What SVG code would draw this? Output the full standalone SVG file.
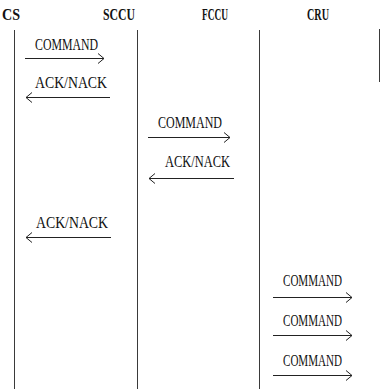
<svg xmlns="http://www.w3.org/2000/svg" width="381" height="389" viewBox="0 0 381 389">
  <style>
    .bg { fill: #ffffff; }
    .life { stroke: #3a3a3a; stroke-width: 1; fill: none; }
    .head { font-family: "Liberation Serif", "Times New Roman", serif; font-size: 16px; font-weight: bold; fill: #111111; }
    .msg { stroke: #222222; stroke-width: 1; fill: none; marker-end: url(#chev); }
    .lbl { font-family: "Liberation Serif", "Times New Roman", serif; font-size: 16px; fill: #111111; }
  </style>
  <defs>
    <marker id="chev" markerUnits="userSpaceOnUse" markerWidth="8" markerHeight="12" refX="7" refY="6" orient="auto">
      <path d="M1,1 L7,6 L1,11" fill="none" stroke="#222222" stroke-width="1"/>
    </marker>
  </defs>

  <rect class="bg" x="0" y="0" width="381" height="389"/>

  <!-- participants -->
  <g id="cs">
    <text class="head" x="2" y="19.5" textLength="18" lengthAdjust="spacingAndGlyphs">CS</text>
    <line class="life" x1="14.5" y1="30" x2="14.5" y2="389"/>
  </g>
  <g id="sccu">
    <text class="head" x="103" y="19.5" textLength="32" lengthAdjust="spacingAndGlyphs">SCCU</text>
    <line class="life" x1="137.5" y1="30" x2="137.5" y2="389"/>
  </g>
  <g id="fccu">
    <text class="head" x="202" y="19.5" textLength="26" lengthAdjust="spacingAndGlyphs">FCCU</text>
    <line class="life" x1="259.5" y1="30" x2="259.5" y2="389"/>
  </g>
  <g id="cru">
    <text class="head" x="307" y="19.5" textLength="22" lengthAdjust="spacingAndGlyphs">CRU</text>
    <line class="life" x1="379.5" y1="29" x2="379.5" y2="82" stroke="#8a8a8a"/>
  </g>

  <!-- messages -->
  <g id="connectors">
    <text class="lbl" x="35" y="49.5" textLength="63" lengthAdjust="spacingAndGlyphs">COMMAND</text>
    <line class="msg" x1="25" y1="58.5" x2="104" y2="58.5"/>

    <text class="lbl" x="35" y="87.5" textLength="72" lengthAdjust="spacingAndGlyphs">ACK/NACK</text>
    <line class="msg" x1="110" y1="97.5" x2="26" y2="97.5"/>

    <text class="lbl" x="158" y="127.5" textLength="64" lengthAdjust="spacingAndGlyphs">COMMAND</text>
    <line class="msg" x1="148" y1="137.5" x2="230" y2="137.5"/>

    <text class="lbl" x="165" y="166.5" textLength="65" lengthAdjust="spacingAndGlyphs">ACK/NACK</text>
    <line class="msg" x1="234" y1="178.5" x2="149" y2="178.5"/>

    <text class="lbl" x="36" y="227.5" textLength="72" lengthAdjust="spacingAndGlyphs">ACK/NACK</text>
    <line class="msg" x1="111" y1="237.5" x2="26" y2="237.5"/>

    <text class="lbl" x="283" y="285.5" textLength="59" lengthAdjust="spacingAndGlyphs">COMMAND</text>
    <line class="msg" x1="273" y1="297.5" x2="352" y2="297.5"/>

    <text class="lbl" x="283" y="325.5" textLength="59" lengthAdjust="spacingAndGlyphs">COMMAND</text>
    <line class="msg" x1="273" y1="335.5" x2="352" y2="335.5"/>

    <text class="lbl" x="283" y="365.5" textLength="59" lengthAdjust="spacingAndGlyphs">COMMAND</text>
    <line class="msg" x1="273" y1="375.5" x2="352" y2="375.5"/>
  </g>
</svg>
